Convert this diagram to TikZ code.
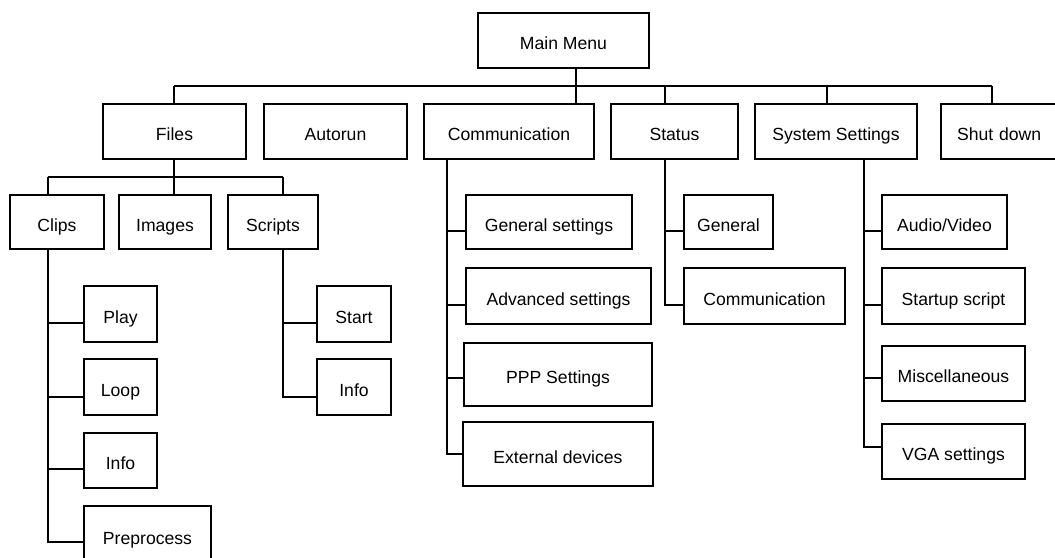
\documentclass[tikz,border=0pt]{standalone}
\usepackage{fontspec}
\setmainfont{Liberation Sans}
\begin{document}
\begin{tikzpicture}[x=1pt,y=-1pt,
  box/.style={draw, line width=1.6pt, inner sep=0pt, text height=19.5pt, text depth=1.5pt, font=\fontsize{17.6}{20}\selectfont},
  conn/.style={line width=1.4pt}]
\clip (0,0) rectangle (1055,557);
% level 0
\node[box, minimum width=171pt, minimum height=55pt] (main) at (563.5,40.5) {Main Menu};
% level 1
\node[box, minimum width=143pt, minimum height=55pt] (files) at (174.5,131.5) {Files};
\node[box, minimum width=143pt, minimum height=55pt] (autorun) at (335.5,131.5) {Autorun};
\node[box, minimum width=170pt, minimum height=55pt] (comm) at (509,131.5) {Communication};
\node[box, minimum width=127pt, minimum height=55pt] (status) at (674.5,131.5) {Status};
\node[box, minimum width=162pt, minimum height=55pt] (sys) at (836,131.5) {System Settings};
\node[box, minimum width=138pt, minimum height=55pt, text width=138pt, align=left] (shut) at (1010,131.5) {\hspace*{16pt}Shut down};
% files children
\node[box, minimum width=94pt, minimum height=54pt] (clips) at (57,222) {Clips};
\node[box, minimum width=92pt, minimum height=54pt] (images) at (165,222) {Images};
\node[box, minimum width=90pt, minimum height=54pt] (scripts) at (273,222) {Scripts};
% clips children
\node[box, minimum width=73pt, minimum height=56pt] (play) at (120.5,314) {Play};
\node[box, minimum width=73pt, minimum height=56pt] (loop) at (120.5,387) {Loop};
\node[box, minimum width=73pt, minimum height=55pt] (cinfo) at (120.5,460.5) {Info};
\node[box, minimum width=127pt, minimum height=58pt] (pre) at (147.5,535) {Preprocess};
% scripts children
\node[box, minimum width=74pt, minimum height=56pt] (start) at (354,314) {Start};
\node[box, minimum width=74pt, minimum height=56pt] (sinfo) at (354,387) {Info};
% communication children
\node[box, minimum width=166pt, minimum height=54pt] (gens) at (549,222) {General settings};
\node[box, minimum width=185pt, minimum height=56pt] (advs) at (558.5,296) {Advanced settings};
\node[box, minimum width=188pt, minimum height=63pt] (ppp) at (558,374.5) {PPP Settings};
\node[box, minimum width=190pt, minimum height=64pt] (ext) at (558,454) {External devices};
% status children
\node[box, minimum width=89pt, minimum height=54pt] (gen) at (728.5,222) {General};
\node[box, minimum width=161pt, minimum height=56pt] (scomm) at (764.5,296) {Communication};
% system settings children
\node[box, minimum width=125pt, minimum height=54pt] (av) at (944.5,222) {Audio/Video};
\node[box, minimum width=143pt, minimum height=56pt] (startup) at (953.5,296) {Startup script};
\node[box, minimum width=143pt, minimum height=55pt] (misc) at (953.5,373.5) {Miscellaneous};
\node[box, minimum width=143pt, minimum height=55pt] (vga) at (953.5,451.5) {VGA settings};
% junction coordinates
\coordinate (mainS) at (576,68);
\coordinate (busL) at (174,86);
\coordinate (busR) at (992,86);
\coordinate (bStatus) at (665,86);
\coordinate (bSys) at (827,86);
\coordinate (fS) at (174,159);
\coordinate (fbL) at (48,177);
\coordinate (fbR) at (283,177);
\coordinate (cT) at (48,249);
\coordinate (sT) at (283,249);
\coordinate (coT) at (447,159);
\coordinate (stT) at (665,159);
\coordinate (syT) at (864,159);
% connectors level 0-1
\draw[conn] (mainS) -- (comm.north -| mainS);
\draw[conn] (busL) -- (busR);
\draw[conn] (busL) -- (files.north -| busL);
\draw[conn] (bStatus) -- (status.north -| bStatus);
\draw[conn] (bSys) -- (sys.north -| bSys);
\draw[conn] (busR) -- (shut.north -| busR);
% files
\draw[conn] (fS) -- (images.north -| fS);
\draw[conn] (fbL) -- (fbR);
\draw[conn] (fbL) -- (clips.north -| fbL);
\draw[conn] (fbR) -- (scripts.north -| fbR);
% clips
\draw[conn] (cT) |- ([yshift=-9pt]play.west);
\draw[conn] (cT) |- ([yshift=-10pt]loop.west);
\draw[conn] (cT) |- ([yshift=-8.5pt]cinfo.west);
\draw[conn] (cT) |- ([yshift=-7pt]pre.west);
% scripts
\draw[conn] (sT) |- ([yshift=-9pt]start.west);
\draw[conn] (sT) |- ([yshift=-10pt]sinfo.west);
% communication
\draw[conn] (coT) |- ([yshift=-9pt]gens.west);
\draw[conn] (coT) |- ([yshift=-9pt]advs.west);
\draw[conn] (coT) |- ([yshift=-3.5pt]ppp.west);
\draw[conn] (coT) |- (ext.west);
% status
\draw[conn] (stT) |- ([yshift=-9pt]gen.west);
\draw[conn] (stT) |- ([yshift=-9pt]scomm.west);
% system settings
\draw[conn] (syT) |- ([yshift=-9pt]av.west);
\draw[conn] (syT) |- ([yshift=-9pt]startup.west);
\draw[conn] (syT) |- ([yshift=-4.5pt]misc.west);
\draw[conn] (syT) |- ([yshift=4.5pt]vga.west);
\end{tikzpicture}
\end{document}
